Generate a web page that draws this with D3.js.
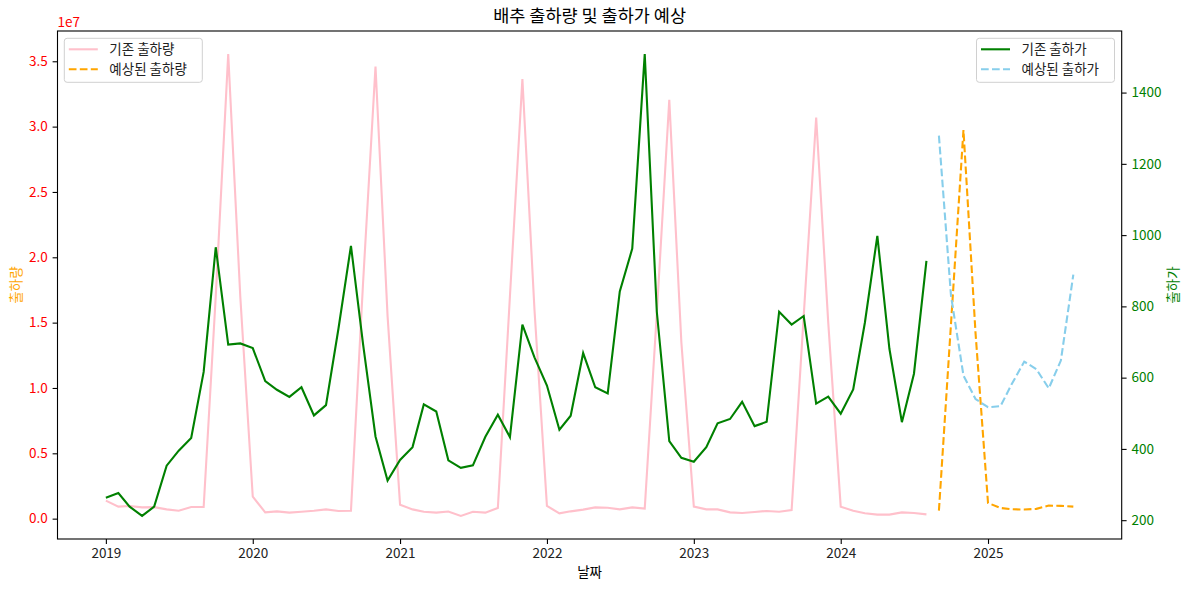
<!DOCTYPE html>
<html>
<head>
<meta charset="utf-8">
<script src="https://cdn.jsdelivr.net/npm/d3@7"></script>
<style>
  body { margin: 0; background: #fff; }
  svg { display: block; font-family: "Noto Sans CJK KR", "Noto Sans", sans-serif; }
  svg text { font-family: "Noto Sans CJK KR", "Noto Sans", sans-serif; }
</style>
</head>
<body>
<svg id="chart" width="1189" height="590"></svg>
<script>
// 기존 데이터: 2019-01 ~ 2024-08 (월별), 예측: 2024-09 ~ 2025-08
const histStart = "2019-01-01";
const predStart = "2024-09-01";

// 기존 출하량 (단위 1e7)
const histVolume = [
  0.138, 0.092, 0.097, 0.086, 0.088, 0.071, 0.061, 0.089, 0.089, 1.70, 3.555, 1.70,
  0.168, 0.048, 0.056, 0.046, 0.053, 0.061, 0.071, 0.059, 0.061, 1.80, 3.46, 1.55,
  0.107, 0.071, 0.053, 0.046, 0.055, 0.021, 0.053, 0.046, 0.082, 1.70, 3.364, 1.60,
  0.097, 0.041, 0.056, 0.069, 0.086, 0.084, 0.071, 0.086, 0.077, 1.57, 3.206, 1.35,
  0.092, 0.071, 0.071, 0.048, 0.043, 0.051, 0.059, 0.053, 0.066, 1.55, 3.07, 1.50,
  0.092, 0.061, 0.041, 0.031, 0.031, 0.048, 0.043, 0.033
];

// 기존 출하가
const histPrice = [
  263, 276, 238, 212, 238, 353, 395, 431, 616, 966, 693, 696,
  683, 590, 566, 546, 573, 494, 523, 738, 970, 695, 435, 311,
  369, 405, 525, 505, 368, 347, 354, 434, 496, 433, 749, 657,
  578, 454, 493, 669, 573, 556, 842, 962, 1508, 785, 422, 375,
  364, 405, 472, 484, 532, 464, 476, 785, 749, 773, 527, 547,
  499, 567, 754, 998, 681, 475, 611, 928
];

// 예상된 출하량 (단위 1e7)
const predVolume = [0.061, 1.49, 2.974, 1.42, 0.12, 0.082, 0.072, 0.07, 0.075, 0.1, 0.098, 0.092];

// 예상된 출하가
const predPrice = [1279, 830, 606, 540, 517, 520, 582, 645, 624, 570, 648, 889];

const leftTicks = [0, 0.5, 1.0, 1.5, 2.0, 2.5, 3.0, 3.5];
const rightTicks = [200, 400, 600, 800, 1000, 1200, 1400];
const yearTicks = [2019, 2020, 2021, 2022, 2023, 2024, 2025];

const W = 1189, H = 590;
const margin = { top: 31, right: 67.3, bottom: 51, left: 57.5 };
const iw = W - margin.left - margin.right;
const ih = H - margin.top - margin.bottom;

const histDates = d3.timeMonth.range(new Date(histStart + "T00:00:00"), new Date(2100, 0, 1)).slice(0, histVolume.length);
const predDates = d3.timeMonth.range(new Date(predStart + "T00:00:00"), new Date(2100, 0, 1)).slice(0, predVolume.length);

const hist = histDates.map((d, i) => ({ date: d, vol: histVolume[i], price: histPrice[i] }));
const pred = predDates.map((d, i) => ({ date: d, vol: predVolume[i], price: predPrice[i] }));

// matplotlib 기본 여백 5%
function pad(ext) {
  const r = ext[1] - ext[0];
  return [ext[0] - r * 0.05, ext[1] + r * 0.05];
}
const allDates = histDates.concat(predDates);
const tExt = d3.extent(allDates).map(d => +d);
const x = d3.scaleTime().domain(pad(tExt).map(t => new Date(t))).range([0, iw]);
const yL = d3.scaleLinear().domain(pad(d3.extent(histVolume.concat(predVolume)))).range([ih, 0]);
const yR = d3.scaleLinear().domain(pad(d3.extent(histPrice.concat(predPrice)))).range([ih, 0]);

const svg = d3.select("#chart");
const g = svg.append("g").attr("transform", `translate(${margin.left},${margin.top})`);

// 제목
svg.append("text")
  .attr("x", margin.left + iw / 2).attr("y", 22)
  .attr("text-anchor", "middle")
  .style("font-size", "17.5px").attr("fill", "#000")
  .text("배추 출하량 및 출하가 예상");

// 축
const xAxis = g.append("g").attr("transform", `translate(0,${ih})`)
  .call(d3.axisBottom(x).tickValues(yearTicks.map(y => new Date(y, 0, 1)))
    .tickFormat(d3.timeFormat("%Y")).tickSize(4.9).tickPadding(4.9));
const yAxisL = g.append("g")
  .call(d3.axisLeft(yL).tickValues(leftTicks).tickFormat(d3.format(".1f")).tickSize(4.9).tickPadding(4.9));
const yAxisR = g.append("g").attr("transform", `translate(${iw},0)`)
  .call(d3.axisRight(yR).tickValues(rightTicks).tickFormat(d3.format("d")).tickSize(4.9).tickPadding(4.9));

[xAxis, yAxisL, yAxisR].forEach(a => {
  a.attr("font-family", null).attr("font-size", null);
  a.select(".domain").remove();
  a.selectAll(".tick line").attr("stroke", "#000").attr("stroke-width", 1.1);
  a.selectAll(".tick text").style("font-size", "13.5px");
});
xAxis.selectAll(".tick text").attr("fill", "#222");
yAxisL.selectAll(".tick text").attr("fill", "#ff0000");
yAxisR.selectAll(".tick text").attr("fill", "#008000");

// 오프셋 텍스트
svg.append("text")
  .attr("x", margin.left).attr("y", 27)
  .attr("fill", "#ff0000").style("font-size", "13.5px")
  .text("1e7");

// 축 라벨
svg.append("text")
  .attr("transform", `translate(21,${margin.top + ih / 2}) rotate(-90)`)
  .attr("text-anchor", "middle").attr("fill", "#ffa500").style("font-size", "13.5px")
  .text("출하량");
svg.append("text")
  .attr("transform", `translate(1178,${margin.top + ih / 2}) rotate(-90)`)
  .attr("text-anchor", "middle").attr("fill", "#008000").style("font-size", "13.5px")
  .text("출하가");
svg.append("text")
  .attr("x", margin.left + iw / 2).attr("y", 577)
  .attr("text-anchor", "middle").attr("fill", "#000").style("font-size", "13.5px")
  .text("날짜");

// 선
const lineL = d3.line().x(d => x(d.date)).y(d => yL(d.vol));
const lineR = d3.line().x(d => x(d.date)).y(d => yR(d.price));
const dash = "7.7,3.3";

g.append("path").datum(hist).attr("d", lineL)
  .attr("fill", "none").attr("stroke", "pink").attr("stroke-width", 2.1);
g.append("path").datum(pred).attr("d", lineL)
  .attr("fill", "none").attr("stroke", "orange").attr("stroke-width", 2.1).attr("stroke-dasharray", dash);
g.append("path").datum(hist).attr("d", lineR)
  .attr("fill", "none").attr("stroke", "green").attr("stroke-width", 2.1);
g.append("path").datum(pred).attr("d", lineR)
  .attr("fill", "none").attr("stroke", "skyblue").attr("stroke-width", 2.1).attr("stroke-dasharray", dash);

// 테두리
g.append("rect").attr("width", iw).attr("height", ih)
  .attr("fill", "none").attr("stroke", "#000").attr("stroke-width", 1.1);

// 범례
function legend(x0, items) {
  const lg = svg.append("g").attr("transform", `translate(${x0},38.3)`);
  lg.append("rect").attr("width", 138).attr("height", 44).attr("rx", 2.8)
    .attr("fill", "#fff").attr("fill-opacity", 0.8).attr("stroke", "#d0d0d0").attr("stroke-width", 1);
  items.forEach((it, i) => {
    const yy = 11 + i * 20;
    lg.append("line").attr("x1", 4.5).attr("x2", 33.5).attr("y1", yy).attr("y2", yy)
      .attr("stroke", it.color).attr("stroke-width", 2.1)
      .attr("stroke-dasharray", it.dashed ? dash : null);
    lg.append("text").attr("x", 45).attr("y", yy + 5)
      .attr("fill", "#222").style("font-size", "13.5px").text(it.label);
  });
}
legend(64.3, [
  { label: "기존 출하량", color: "pink", dashed: false },
  { label: "예상된 출하량", color: "orange", dashed: true }
]);
legend(976.5, [
  { label: "기존 출하가", color: "green", dashed: false },
  { label: "예상된 출하가", color: "skyblue", dashed: true }
]);
</script>
</body>
</html>
